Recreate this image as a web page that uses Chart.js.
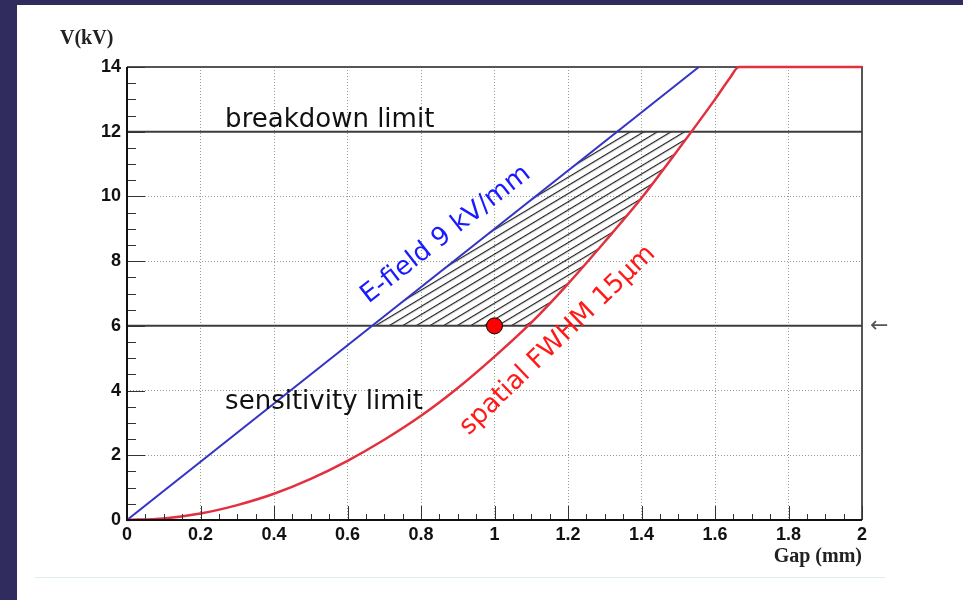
<!DOCTYPE html>
<html>
<head>
<meta charset="utf-8">
<script src="https://cdn.jsdelivr.net/npm/chart.js@4.4.0/dist/chart.umd.min.js"></script>
<style>
html, body { margin: 0; padding: 0; background: #302d5e; overflow: hidden; }
#sheet { position: absolute; left: 17px; top: 5px; right: 0; bottom: 0; background: #fff; }
#rule { position: absolute; left: 35px; top: 577px; width: 850px; height: 1px; background: #e2f2e2; }
canvas { position: absolute; left: 0; top: 0; }
</style>
</head>
<body>
<div id="sheet"></div>
<div id="rule"></div>
<canvas id="chart" width="963" height="600"></canvas>
<script>
// --- data ---
const fieldGap = [0, 1.556];          // E-field 9 kV/mm
const fieldV = [0, 14];

const fwhmGap = [0, 0.1, 0.2, 0.3, 0.4, 0.5, 0.6, 0.7, 0.8, 0.9, 1.0, 1.1, 1.2, 1.3, 1.4, 1.5, 1.6, 1.64, 1.665, 1.7, 2.0];
const fwhmV = [0, 0.05, 0.2, 0.46, 0.81, 1.27, 1.83, 2.48, 3.22, 4.08, 5.05, 6.1, 7.3, 8.6, 9.95, 11.45, 13.0, 13.65, 14, 14, 14];

const limitGap = [0, 2];
const breakdownV = [12, 12];
const sensitivityV = [6, 6];

// allowed region (hatched): upper and lower edges
const regionTopGap = [0.667, 1.333, 1.537];
const regionTopV = [6, 12, 12];
const regionBottomGap = [0.667, 1.091, 1.2, 1.3, 1.4, 1.5, 1.537];
const regionBottomV = [6, 6, 7.3, 8.6, 9.95, 11.45, 12];

const pointGap = [1.0];
const pointV = [6.0];

const toXY = (xs, ys) => xs.map((x, i) => ({ x: x, y: ys[i] }));
const isMajor = (v, step) => Math.abs(v / step - Math.round(v / step)) < 1e-6;

// hatch pattern for the allowed region
function makeHatch(ctx) {
    const tile = document.createElement('canvas');
    tile.width = 8; tile.height = 7;
    const t = tile.getContext('2d');
    t.fillStyle = '#1e1e1e';
    t.fillRect(0, 3, 8, 1.2);
    const pat = ctx.createPattern(tile, 'repeat');
    pat.setTransform(new DOMMatrix().rotateSelf(-31));
    return pat;
}

// text and decorations, positioned in data units
const notes = [
    { text: 'breakdown limit', x: 0.267, y: 12.15, angle: 0, color: '#111', font: '26px "DejaVu Sans"' },
    { text: 'sensitivity limit', x: 0.267, y: 3.43, angle: 0, color: '#111', font: '26px "DejaVu Sans"' },
    { text: 'E-field 9 kV/mm', x: 0.657, y: 6.68, angle: -38, color: '#1a1aff', font: '26px "DejaVu Sans"' },
    { text: 'spatial FWHM 15\u00b5m', x: 0.93, y: 2.6, angle: -44, color: '#ff1a1a', font: '26px "DejaVu Sans"' }
];

const frame = {
    id: 'frame',
    beforeDatasetsDraw(chart) {
        const { ctx, chartArea: a } = chart;
        ctx.save();
        ctx.strokeStyle = '#555';
        ctx.lineWidth = 2;
        ctx.beginPath();
        ctx.moveTo(a.left, a.top); ctx.lineTo(a.right, a.top); ctx.lineTo(a.right, a.bottom);
        ctx.stroke();
        ctx.restore();
    }
};

const decor = {
    id: 'decor',
    afterDraw(chart) {
        const { ctx, chartArea: a, scales: { x, y } } = chart;
        ctx.save();

        // inward ticks
        ctx.strokeStyle = '#333';
        ctx.lineWidth = 1;
        ctx.beginPath();
        x.ticks.forEach(t => {
            const px = Math.round(x.getPixelForValue(t.value)) + 0.5;
            const len = isMajor(t.value, 0.2) ? 14 : 6;
            ctx.moveTo(px, a.bottom); ctx.lineTo(px, a.bottom - len);
        });
        y.ticks.forEach(t => {
            const py = Math.round(y.getPixelForValue(t.value)) + 0.5;
            const len = isMajor(t.value, 2) ? 18 : 9;
            ctx.moveTo(a.left, py); ctx.lineTo(a.left + len, py);
        });
        ctx.stroke();

        // left and bottom axes
        ctx.strokeStyle = '#111';
        ctx.lineWidth = 2;
        ctx.beginPath();
        ctx.moveTo(a.left, a.top); ctx.lineTo(a.left, a.bottom); ctx.lineTo(a.right, a.bottom);
        ctx.stroke();

        // axis titles
        ctx.fillStyle = '#222';
        ctx.font = 'bold 20px "Liberation Serif"';
        ctx.textBaseline = 'alphabetic';
        ctx.textAlign = 'left';
        ctx.fillText('V(kV)', 60, 44);
        ctx.textAlign = 'right';
        ctx.fillText('Gap (mm)', a.right, 562);

        // arrow marking the sensitivity level
        ctx.fillStyle = '#555';
        ctx.font = '22px "DejaVu Sans"';
        ctx.textAlign = 'left';
        ctx.textBaseline = 'middle';
        ctx.fillText('\u2190', a.right + 8, y.getPixelForValue(6));

        // curve labels
        ctx.textBaseline = 'alphabetic';
        notes.forEach(n => {
            ctx.save();
            ctx.translate(x.getPixelForValue(n.x), y.getPixelForValue(n.y));
            ctx.rotate(n.angle * Math.PI / 180);
            ctx.fillStyle = n.color;
            ctx.font = n.font;
            ctx.textAlign = 'left';
            ctx.fillText(n.text, 0, 0);
            ctx.restore();
        });
        ctx.restore();
    }
};

const ctx = document.getElementById('chart').getContext('2d');

new Chart(ctx, {
    type: 'line',
    data: {
        datasets: [
            {
                label: 'region top',
                data: toXY(regionTopGap, regionTopV),
                borderWidth: 0,
                pointRadius: 0,
                backgroundColor: makeHatch(ctx),
                fill: '+1',
                order: 6
            },
            {
                label: 'region bottom',
                data: toXY(regionBottomGap, regionBottomV),
                borderWidth: 0,
                pointRadius: 0,
                fill: false,
                order: 6
            },
            {
                label: 'breakdown limit',
                data: toXY(limitGap, breakdownV),
                borderColor: '#3c3c3c',
                borderWidth: 2,
                pointRadius: 0,
                order: 3
            },
            {
                label: 'sensitivity limit',
                data: toXY(limitGap, sensitivityV),
                borderColor: '#3c3c3c',
                borderWidth: 2,
                pointRadius: 0,
                order: 3
            },
            {
                label: 'E-field 9 kV/mm',
                data: toXY(fieldGap, fieldV),
                borderColor: '#3333c4',
                borderWidth: 2,
                pointRadius: 0,
                order: 2
            },
            {
                label: 'spatial FWHM 15um',
                data: toXY(fwhmGap, fwhmV),
                borderColor: '#e2303f',
                borderWidth: 2.5,
                pointRadius: 0,
                cubicInterpolationMode: 'monotone',
                clip: 4,
                order: 1
            },
            {
                label: 'working point',
                data: toXY(pointGap, pointV),
                showLine: false,
                pointRadius: 8,
                pointBackgroundColor: '#ff0000',
                pointBorderColor: '#000',
                pointBorderWidth: 1,
                order: 0
            }
        ]
    },
    options: {
        responsive: false,
        animation: false,
        layout: { padding: { left: 0, top: 67, right: 101, bottom: 50 } },
        plugins: { legend: { display: false }, tooltip: { enabled: false } },
        scales: {
            x: {
                type: 'linear',
                min: 0, max: 2,
                afterFit: s => { s.height = 30; },
                border: { display: false, dash: [1, 2] },
                grid: {
                    drawTicks: false,
                    color: c => (c.tick && isMajor(c.tick.value, 0.2)) ? '#8fa08f' : 'rgba(0,0,0,0)'
                },
                ticks: {
                    stepSize: 0.05,
                    autoSkip: false,
                    maxRotation: 0,
                    padding: 4,
                    color: '#111',
                    font: { family: 'Liberation Sans', size: 18, weight: 'bold' },
                    callback: v => isMajor(v, 0.2) ? String(Math.round(v * 10) / 10) : ''
                }
            },
            y: {
                type: 'linear',
                min: 0, max: 14,
                afterFit: s => { s.width = 127; },
                border: { display: false, dash: [1, 2] },
                grid: {
                    drawTicks: false,
                    color: c => (c.tick && isMajor(c.tick.value, 2)) ? '#8fa08f' : 'rgba(0,0,0,0)'
                },
                ticks: {
                    stepSize: 0.5,
                    autoSkip: false,
                    padding: 6,
                    color: '#111',
                    font: { family: 'Liberation Sans', size: 18, weight: 'bold' },
                    callback: v => isMajor(v, 2) ? String(Math.round(v)) : ''
                }
            }
        }
    },
    plugins: [frame, decor]
});
</script>
</body>
</html>
